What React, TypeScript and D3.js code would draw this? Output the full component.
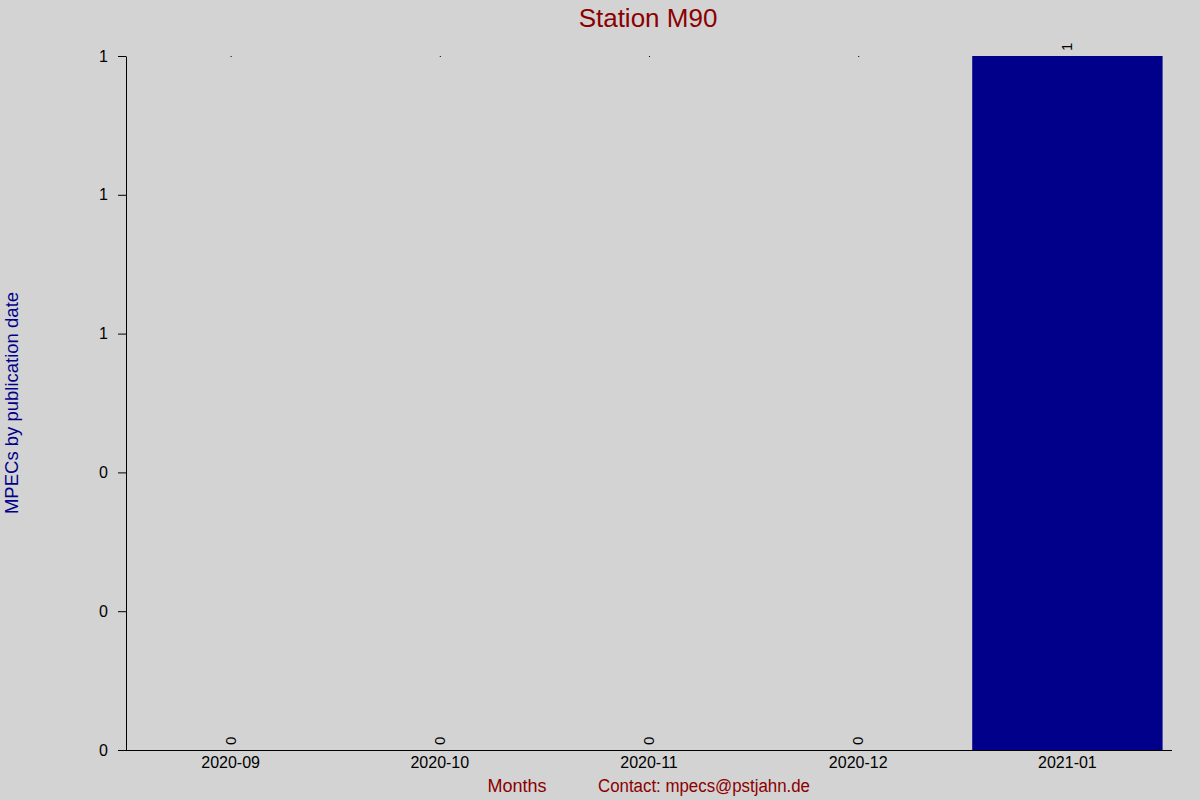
import { useEffect, useRef } from "react";
import * as d3 from "d3";

const months = ["2020-09", "2020-10", "2020-11", "2020-12", "2021-01"];
const counts = [0, 0, 0, 0, 1];
const yTicks = [0, 0.2, 0.4, 0.6, 0.8, 1];

const W = 1200;
const H = 800;

const App = () => {
  const ref = useRef<SVGSVGElement | null>(null);

  useEffect(() => {
    drawChart();
  }, []);

  const drawChart = () => {
    const svg = d3.select(ref.current);
    svg.selectAll("*").remove();

    const margin = { top: 56, right: 28, bottom: 50, left: 126 };
    const font = "'Liberation Sans', Arial, sans-serif";

    svg.append("rect").attr("width", W).attr("height", H).attr("fill", "#d3d3d3");

    const xScale = d3
      .scaleBand()
      .domain(months)
      .range([margin.left, W - margin.right])
      .paddingInner(0.09)
      .paddingOuter(0.045);

    const yScale = d3
      .scaleLinear()
      .domain([0, 1])
      .range([H - margin.bottom, margin.top]);

    // bars
    svg
      .selectAll("rect.bar")
      .data(months.map((m, i) => ({ m, v: counts[i] })))
      .join("rect")
      .attr("class", "bar")
      .attr("x", (d) => xScale(d.m)!)
      .attr("width", xScale.bandwidth())
      .attr("y", (d) => yScale(d.v))
      .attr("height", (d) => yScale(0) - yScale(d.v))
      .attr("fill", "#00008b");

    // little dots at the top for empty months
    svg
      .selectAll("rect.dot")
      .data(months.filter((_, i) => counts[i] === 0))
      .join("rect")
      .attr("class", "dot")
      .attr("x", (d) => xScale(d)! + xScale.bandwidth() / 2)
      .attr("y", yScale(1))
      .attr("width", 1)
      .attr("height", 1)
      .attr("fill", "#000");

    // value labels
    svg
      .selectAll("text.val")
      .data(months.map((m, i) => ({ m, v: counts[i] })))
      .join("text")
      .attr("class", "val")
      .attr("transform", (d) => `translate(${xScale(d.m)! + xScale.bandwidth() / 2 + 5},${yScale(d.v) - 5}) rotate(-90)`)
      .attr("text-anchor", "start")
      .style("font-family", font)
      .style("font-size", "15px")
      .attr("fill", "#000")
      .text((d) => String(d.v));

    // X axis
    svg
      .append("g")
      .attr("transform", `translate(0,${yScale(0)})`)
      .call(d3.axisBottom(xScale).tickSize(0).tickPadding(7))
      .call((g) => g.select(".domain").attr("d", `M${margin.left - 8},0.5H${W - margin.right}`).attr("stroke", "#000"))
      .style("font-family", font)
      .style("font-size", "16px")
      .style("color", "#000");

    // Y axis
    svg
      .append("g")
      .attr("transform", `translate(${margin.left},0)`)
      .call(
        d3
          .axisLeft(yScale)
          .tickValues(yTicks)
          .tickSize(8)
          .tickSizeOuter(0)
          .tickPadding(10)
          .tickFormat((d) => d3.format(".0f")(d as number))
      )
      .style("font-family", font)
      .style("font-size", "16px")
      .style("color", "#000");

    // title
    svg
      .append("text")
      .attr("x", 648)
      .attr("y", 27)
      .attr("text-anchor", "middle")
      .style("font-family", font)
      .style("font-size", "26px")
      .attr("fill", "#8b0000")
      .text("Station M90");

    // y label
    svg
      .append("text")
      .attr("transform", `translate(18,${(yScale(0) + yScale(1)) / 2}) rotate(-90)`)
      .attr("text-anchor", "middle")
      .style("font-family", font)
      .style("font-size", "18.5px")
      .attr("fill", "#00008b")
      .text("MPECs by publication date");

    // x label and contact
    svg
      .append("text")
      .attr("x", 517)
      .attr("y", 792)
      .attr("text-anchor", "middle")
      .style("font-family", font)
      .style("font-size", "18px")
      .attr("fill", "#8b0000")
      .text("Months");

    svg
      .append("text")
      .attr("x", 598)
      .attr("y", 792)
      .attr("text-anchor", "start")
      .attr("textLength", 212)
      .attr("lengthAdjust", "spacingAndGlyphs")
      .style("font-family", font)
      .style("font-size", "18px")
      .attr("fill", "#8b0000")
      .text("Contact: mpecs@pstjahn.de");
  };

  return (
    <div style={{ position: "absolute", left: 0, top: 0 }}>
      <svg ref={ref} width={W} height={H} style={{ display: "block" }} />
    </div>
  );
};

export default App;
